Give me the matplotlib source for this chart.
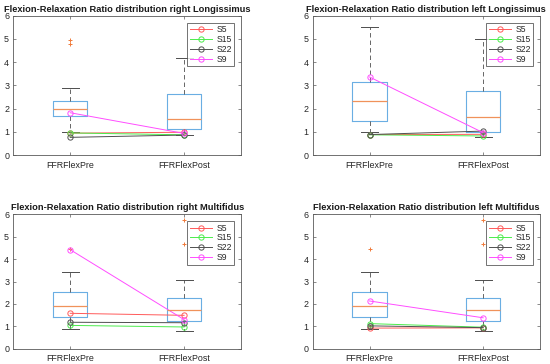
import matplotlib
matplotlib.use("Agg")
import matplotlib.pyplot as plt

plt.rcParams['font.family'] = ['Liberation Sans', 'DejaVu Sans']
plt.rcParams['lines.scale_dashes'] = False

categories = ['FFRFlexPre', 'FFRFlexPost']
subjects = ['S5', 'S15', 'S22', 'S9']
subject_colors = ['#ff5a5a', '#4cec4c', '#505050', '#ff4dff']

titles = ['Flexion-Relaxation Ratio distribution right Longissimus',
          'Flexion-Relaxation Ratio distribution left Longissimus',
          'Flexion-Relaxation Ratio distribution right Multifidus',
          'Flexion-Relaxation Ratio distribution left Multifidus']

# box statistics per panel: [Pre, Post]
rL_q1 = [1.69, 1.12]
rL_med = [1.97, 1.54]
rL_q3 = [2.34, 2.61]
rL_lo = [1.00, 0.86]
rL_hi = [2.90, 4.18]
rL_fliers = [[4.95, 4.78], []]
rL_S5 = [0.94, 0.98]
rL_S15 = [0.95, 0.87]
rL_S22 = [0.76, 0.86]
rL_S9 = [1.82, 0.93]

lL_q1 = [1.48, 0.98]
lL_med = [2.31, 1.62]
lL_q3 = [3.13, 2.76]
lL_lo = [0.99, 0.79]
lL_hi = [5.50, 4.98]
lL_fliers = [[], []]
lL_S5 = [0.88, 0.89]
lL_S15 = [0.87, 0.82]
lL_S22 = [0.88, 1.03]
lL_S9 = [3.36, 0.96]

rM_q1 = [1.43, 1.22]
rM_med = [1.91, 1.73]
rM_q3 = [2.52, 2.25]
rM_lo = [0.87, 0.77]
rM_hi = [3.44, 3.07]
rM_fliers = [[4.44], [5.75, 4.66]]
rM_S5 = [1.58, 1.49]
rM_S15 = [1.04, 0.97]
rM_S22 = [1.18, 1.16]
rM_S9 = [4.42, 1.30]

lM_q1 = [1.43, 1.22]
lM_med = [1.91, 1.73]
lM_q3 = [2.52, 2.25]
lM_lo = [0.87, 0.77]
lM_hi = [3.44, 3.07]
lM_fliers = [[4.44], [5.75, 4.66]]
lM_S5 = [0.92, 0.93]
lM_S15 = [1.12, 0.96]
lM_S22 = [1.02, 0.94]
lM_S9 = [2.13, 1.38]

panels = [
    (rL_q1, rL_med, rL_q3, rL_lo, rL_hi, rL_fliers, [rL_S5, rL_S15, rL_S22, rL_S9]),
    (lL_q1, lL_med, lL_q3, lL_lo, lL_hi, lL_fliers, [lL_S5, lL_S15, lL_S22, lL_S9]),
    (rM_q1, rM_med, rM_q3, rM_lo, rM_hi, rM_fliers, [rM_S5, rM_S15, rM_S22, rM_S9]),
    (lM_q1, lM_med, lM_q3, lM_lo, lM_hi, lM_fliers, [lM_S5, lM_S15, lM_S22, lM_S9]),
]

W, H = 550, 364
fig = plt.figure(figsize=(W / 100, H / 100), dpi=100)
rects = [
    (13.3, 15.7, 241, 155),
    (312.7, 15.7, 540, 155),
    (13.3, 214.3, 241, 348.7),
    (312.7, 214.3, 540, 348.7),
]

box_c = '#6aaee3'
med_c = '#f0925a'
wh_c = '#4d4d4d'
axis_c = '#5a5a5a'
txt_c = '#262626'

for k, (x0, y0, x1, y1) in enumerate(rects):
    ax = fig.add_axes([x0 / W, 1 - y1 / H, (x1 - x0) / W, (y1 - y0) / H])
    q1, med, q3, lo, hi, fl, series = panels[k]
    stats = []
    for i in range(2):
        stats.append(dict(q1=q1[i], med=med[i], q3=q3[i], whislo=lo[i],
                          whishi=hi[i], fliers=fl[i], label=categories[i]))
    ax.bxp(stats, positions=[1, 2], widths=0.3, showfliers=True,
           boxprops=dict(color=box_c, lw=0.8),
           medianprops=dict(color=med_c, lw=0.9),
           whiskerprops=dict(color=wh_c, lw=0.6, linestyle=(0, (3.2, 2.2))),
           capprops=dict(color=wh_c, lw=0.7),
           flierprops=dict(marker='+', markeredgecolor='#f07a3a', markersize=3.5,
                           markeredgewidth=0.7, linestyle='none'))
    for name, vals, c in zip(subjects, series, subject_colors):
        ax.plot([1, 2], vals, '-o', color=c, lw=0.7, markersize=3.8,
                markerfacecolor='none', markeredgewidth=0.7, label=name)
    ax.set_xlim(0.5, 2.5)
    ax.set_ylim(0, 6)
    ax.set_yticks(range(7))
    ax.set_xticks([1, 2])
    ax.set_xticklabels(categories)
    ax.tick_params(direction='in', length=2.2, width=0.5, colors=axis_c,
                   labelcolor=txt_c, labelsize=6.4, top=True, right=True)
    ax.tick_params(axis='x', pad=4)
    ax.tick_params(axis='y', pad=3)
    for s in ax.spines.values():
        s.set_color(axis_c)
        s.set_linewidth(0.6)
    ax.set_title(titles[k], fontsize=6.7, fontweight='bold', color='#1a1a1a', pad=3.0)
    leg = ax.legend(loc='upper right', fontsize=6.2, frameon=True, fancybox=False,
                    handlelength=2.6, handletextpad=0.5, labelspacing=0.1,
                    borderpad=0.28, borderaxespad=0.8)
    leg.get_frame().set_edgecolor('#333333')
    leg.get_frame().set_linewidth(0.6)
    for t in leg.get_texts():
        t.set_color(txt_c)

fig.savefig('out.png', dpi=100)
